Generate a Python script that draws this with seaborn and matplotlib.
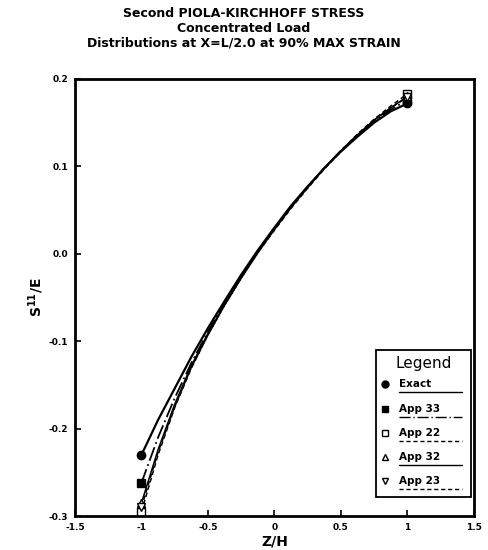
import matplotlib
matplotlib.use("Agg")
import matplotlib.pyplot as plt
import seaborn as sns
import pandas as pd
from matplotlib.patches import Rectangle
from matplotlib.lines import Line2D

# ---- data ----
z = [-1.0, -0.875, -0.75, -0.625, -0.5, -0.375, -0.25, -0.125, 0.0,
     0.125, 0.25, 0.375, 0.5, 0.625, 0.75, 0.875, 1.0]
exact = [-0.230, -0.190, -0.154, -0.118, -0.085, -0.054, -0.024, 0.004, 0.030,
         0.055, 0.077, 0.098, 0.117, 0.134, 0.150, 0.163, 0.172]
app33 = [-0.262, -0.210, -0.165, -0.125, -0.089, -0.056, -0.026, 0.003, 0.029,
         0.054, 0.077, 0.098, 0.118, 0.136, 0.152, 0.165, 0.176]
app22 = [-0.295, -0.230, -0.176, -0.131, -0.093, -0.059, -0.028, 0.001, 0.028,
         0.053, 0.076, 0.098, 0.118, 0.137, 0.154, 0.169, 0.183]
app32 = [-0.285, -0.224, -0.172, -0.128, -0.091, -0.058, -0.027, 0.002, 0.028,
         0.053, 0.076, 0.098, 0.118, 0.136, 0.153, 0.167, 0.180]
app23 = [-0.290, -0.227, -0.175, -0.130, -0.093, -0.059, -0.028, 0.001, 0.027,
         0.052, 0.075, 0.097, 0.117, 0.136, 0.153, 0.167, 0.179]
series_names = ["Exact", "App 33", "App 22", "App 32", "App 23"]
xticks = [-1.5, -1, -0.5, 0, 0.5, 1, 1.5]
xticklabels = ["-1.5", "-1", "-0.5", "0", "0.5", "1", "1.5"]
yticks = [0.2, 0.1, 0.0, -0.1, -0.2, -0.3]
yticklabels = ["0.2", "0.1", "0.0", "-0.1", "-0.2", "-0.3"]

values = [exact, app33, app22, app32, app23]
df = pd.concat(
    [pd.DataFrame({"Z/H": z, "S": v, "series": n}) for n, v in zip(series_names, values)],
    ignore_index=True,
)

styles = {
    "Exact":  dict(ls="-",  marker="o", mfc="black", ms=6, lw=1.6),
    "App 33": dict(ls=(0, (8, 2, 1, 2)), marker="s", mfc="black", ms=6, lw=1.3),
    "App 22": dict(ls=(0, (3, 2)), marker="s", mfc="white", ms=6, lw=1.1),
    "App 32": dict(ls="-",  marker="^", mfc="white", ms=6, lw=1.1),
    "App 23": dict(ls=(0, (3, 2)), marker="v", mfc="white", ms=6, lw=1.1),
}

sns.set_theme(style="white")
plt.rcParams["font.family"] = ["DejaVu Sans"]
plt.rcParams.update({"text.color": "black", "axes.labelcolor": "black",
                     "xtick.color": "black", "ytick.color": "black"})

fig = plt.figure(figsize=(4.88, 5.5), dpi=100)
ax = fig.add_axes([0.1537, 0.0618, 0.8173, 0.7946])

for name in series_names:
    st = styles[name]
    sub = df[df["series"] == name]
    sns.lineplot(data=sub, x="Z/H", y="S", ax=ax, color="black", linestyle=st["ls"],
                 linewidth=st["lw"], marker=st["marker"], markersize=st["ms"],
                 markerfacecolor=st["mfc"], markeredgecolor="black", markeredgewidth=1.0,
                 markevery=[0, len(sub) - 1], estimator=None, sort=False, legend=False)

ax.set_xlim(-1.5, 1.5)
ax.set_ylim(-0.3, 0.2)
ax.set_xticks(xticks)
ax.set_xticklabels(xticklabels, fontsize=6.5, fontweight="bold")
ax.set_yticks(yticks)
ax.set_yticklabels(yticklabels, fontsize=6.5, fontweight="bold")
ax.tick_params(direction="in", length=4, width=1.2, colors="black", pad=5,
               bottom=True, left=True)
for sp in ax.spines.values():
    sp.set_linewidth(2.0)
    sp.set_color("black")

ax.set_xlabel("Z/H", fontsize=10, fontweight="bold", labelpad=2)
ax.set_ylabel(r"$\mathbf{S^{11}/E}$", fontsize=10, labelpad=2)

fig.text(0.5, 0.975, "Second PIOLA-KIRCHHOFF STRESS", ha="center", va="center",
         fontsize=9, fontweight="bold")
fig.text(0.5, 0.948, "Concentrated Load", ha="center", va="center", fontsize=9,
         fontweight="semibold")
fig.text(0.5, 0.921, "Distributions at X=L/2.0 at 90% MAX STRAIN", ha="center",
         va="center", fontsize=9, fontweight="semibold")

# ---- custom legend box (lines drawn under the labels) ----
lx0, lx1 = (376 - 75) / 399, (471 - 75) / 399
ly_top, ly_bot = (516 - 350) / 437, (516 - 497) / 437
ax.add_patch(Rectangle((lx0, ly_bot), lx1 - lx0, ly_top - ly_bot, transform=ax.transAxes,
                       facecolor="white", edgecolor="black", linewidth=1.3, zorder=5))
ax.text((lx0 + lx1) / 2, (516 - 364) / 437, "Legend", transform=ax.transAxes,
        ha="center", va="center", fontsize=11, zorder=6)
entry_y = [384, 409, 433, 457, 481]
for name, ypx in zip(series_names, entry_y):
    st = styles[name]
    yy = (516 - ypx) / 437
    ax.add_line(Line2D([(385 - 75) / 399], [yy], transform=ax.transAxes, marker=st["marker"],
                       ms=5, mfc=st["mfc"], mec="black", ls="none", zorder=6))
    ax.text((399 - 75) / 399, yy, name, transform=ax.transAxes, ha="left", va="center",
            fontsize=7.5, fontweight="bold", zorder=6)
    yl = (516 - ypx - 8) / 437
    ax.add_line(Line2D([(399 - 75) / 399, (462 - 75) / 399], [yl, yl], transform=ax.transAxes,
                       color="black", ls=st["ls"], lw=1.0, zorder=6))

fig.savefig("out.png", dpi=100)
